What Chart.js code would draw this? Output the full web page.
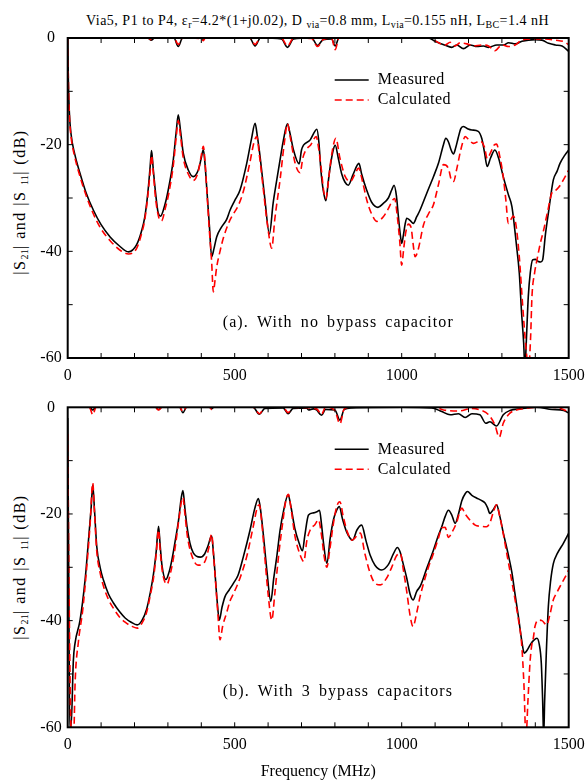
<!DOCTYPE html>
<html>
<head>
<meta charset="utf-8">
<script src="https://cdn.jsdelivr.net/npm/chart.js@4/dist/chart.umd.min.js"></script>
<style>
  body { margin: 0; background: #fff; width: 586px; height: 781px; position: relative; overflow: hidden;
         font-family: "Liberation Serif", "Times New Roman", serif; color: #000; }
  canvas { position: absolute; left: 0; }
  #topChart { top: 0; }
  #botChart { top: 390px; }
  #title { position: absolute; left: 0; width: 635px; top: 13px; text-align: center; font-size: 14px;
           letter-spacing: 0.5px; line-height: 16px; white-space: nowrap; }
  .ylab { position: absolute; width: 220px; height: 20px; line-height: 20px; text-align: center;
          font-size: 16px; letter-spacing: 1.5px; white-space: nowrap; transform: rotate(-90deg); }
  sub { font-size: 10px; vertical-align: -3px; line-height: 0; letter-spacing: 0.3px; }
</style>
</head>
<body>
<div id="title">Via5, P1 to P4, ε<sub>r</sub>=4.2*(1+j0.02), D <sub>via</sub>=0.8 mm, L<sub>via</sub>=0.155 nH, L<sub>BC</sub>=1.4 nH</div>
<div class="ylab" style="left:-90px; top:192px;">|S<sub>21</sub>| and |S <sub>11</sub>| (dB)</div>
<div class="ylab" style="left:-90px; top:557px;">|S<sub>21</sub>| and |S <sub>11</sub>| (dB)</div>
<canvas id="topChart" width="586" height="390"></canvas>
<canvas id="botChart" width="586" height="391"></canvas>
<script>
// ---- (a) no bypass capacitor ----
const aS21MeasFreq = [0,2,5,10,20,37,55,77,100,127,155,182,206,222,231,240,247,251,256,263,270,278,290,301,316,325,331,338,346,361,376,391,400,406,411,416,424,431,438,446,460,476,486,500,516,536,550,561,568,576,590,604,615,626,638,646,658,666,676,693,700,706,726,740,746,752,758,765,773,780,786,795,801,810,820,830,840,855,872,880,895,910,929,945,960,970,977,984,990,996,1000,1005,1010,1015,1025,1035,1045,1055,1075,1095,1110,1125,1132,1140,1148,1155,1162,1169,1177,1184,1197,1210,1229,1240,1248,1256,1266,1279,1290,1304,1320,1330,1344,1352,1359,1365,1369,1373,1379,1385,1392,1400,1409,1416,1422,1430,1439,1454,1465,1474,1488,1500];
const aS21MeasDb = [0,-8,-14,-18,-21.5,-25.4,-29,-32.3,-35,-37.3,-39,-40.1,-38.8,-36,-33.5,-29,-24,-21.1,-24.5,-29,-32.5,-33.4,-31.5,-28.5,-22.9,-17.5,-14.4,-17.5,-21.6,-24.75,-26,-24.75,-22.5,-20.9,-23.5,-27.9,-35,-41,-39.5,-37.3,-35.5,-34,-32.3,-30.5,-28.5,-23.5,-19,-16,-18.5,-22.25,-30,-36.75,-31,-26.6,-22,-19.1,-16.1,-18,-21,-23.6,-21,-20.1,-19.1,-17.5,-17.1,-19.5,-24.75,-28.5,-30.5,-27,-24.1,-21,-20.1,-22.5,-25.4,-27,-27.6,-25.5,-23.5,-25.5,-28.5,-30.8,-31.75,-31,-30,-28.5,-27.6,-29.5,-33.4,-37,-38.5,-37,-35,-33.8,-34.2,-34.75,-33.5,-32.25,-29.1,-26,-23.5,-20,-18.8,-19.5,-21,-21.75,-20.5,-18.75,-17,-16.6,-17,-17.25,-17.5,-18.9,-21.5,-24.1,-22.5,-21,-22.5,-26,-29.5,-31.6,-39.1,-44,-51.6,-57,-62,-57,-48.5,-44,-41.6,-41.5,-41.9,-42,-41.6,-37,-32.9,-26.6,-25,-23.5,-22,-21];

const aS21CalcFreq = [0,2,5,10,20,37,55,77,100,127,155,182,206,222,231,240,247,251,256,263,272,281,292,303,316,325,331,338,346,361,376,391,400,406,411,416,424,431,436,441,446,456,466,486,496,510,526,545,558,566,574,585,598,611,620,636,648,658,666,681,696,704,711,728,744,752,760,766,773,782,790,803,815,831,846,860,871,883,896,910,926,945,960,972,979,986,994,1000,1006,1012,1020,1028,1034,1040,1050,1065,1080,1095,1110,1125,1140,1148,1155,1165,1175,1183,1190,1200,1215,1235,1248,1256,1266,1278,1284,1293,1304,1312,1319,1327,1334,1342,1352,1362,1372,1380,1386,1390,1398,1405,1415,1425,1437,1450,1462,1470,1485,1500];
const aS21CalcDb = [0,-8,-14.5,-18.5,-22,-26,-29.5,-33,-35.8,-38,-39.7,-40.5,-39.5,-36.5,-34,-29.5,-25,-22,-25,-30,-33.5,-34.3,-32,-29,-24,-18.5,-15.5,-18.5,-22.5,-25.5,-26.7,-25,-22,-20.3,-23,-28,-36,-42,-47.6,-45.5,-43,-40,-37.5,-34.1,-33,-31.5,-28.75,-23.5,-19.5,-18.5,-22,-28,-35,-39.4,-34,-26.5,-20,-16.1,-18.5,-23.5,-25.25,-22.5,-21.25,-20,-18.5,-21,-25,-28.5,-30.1,-26,-22,-18.8,-22.5,-26,-26.9,-25.5,-24.4,-27,-30.5,-33,-34.4,-33.5,-32,-30.5,-30.1,-33,-38,-42.6,-39.5,-36.5,-34.9,-35.5,-38.5,-41,-39.5,-35.1,-33,-31.25,-27.5,-23.75,-24.5,-26.5,-26.9,-24.5,-21.5,-19.5,-18.5,-19,-19.75,-19.3,-20.5,-22.6,-21.5,-20,-19.9,-22,-26,-30.5,-34.75,-34,-33.4,-35,-41,-50,-58,-62,-56,-48.5,-44,-41.6,-38.5,-36,-32.5,-29,-28.5,-28,-26.5,-24.75];

const aS11MeasFreq = [0,240,250,260,318,331,344,400,406,412,545,561,577,640,658,676,730,748,765,790,801,812,1080,1100,1128,1150,1165,1185,1205,1225,1245,1260,1285,1305,1320,1340,1360,1400,1420,1440,1460,1480,1500];
const aS11MeasDb = [0,0,-0.4,0,0,-1.6,0,0,-0.3,0,0,-1.5,0,-0.2,-1.75,-0.2,0,-1.4,-0.3,-0.2,-1.5,0,0,-0.6,-1.3,-1.75,-1.3,-2,-1.3,-1.6,-1.5,-1.75,-1.3,-1.3,-0.9,-1.1,-0.6,-0.3,-0.4,-1,-1.3,-1.5,-2.5];

const aS11CalcFreq = [0,240,250,260,318,331,344,400,406,412,545,561,577,640,658,676,730,748,765,790,801,812,1090,1100,1130,1145,1160,1175,1195,1215,1240,1260,1279,1300,1320,1340,1360,1390,1430,1460,1490,1500];
const aS11CalcDb = [0,0,-0.3,0,0,-1.2,0,-0.1,-0.5,0,0,-1.2,0,0,-1.5,0,-0.1,-1.6,-0.3,0,-2.2,0,0,-0.5,-1.3,-0.8,-1.5,-0.9,-1.1,-1.5,-1.3,-1.5,-2.4,-1.3,-1.6,-1.3,-0.4,-0.2,-0.2,-0.4,-0.8,-1.3];

// ---- (b) with 3 bypass capacitors ----
const bS21MeasFreq = [0,3,6,10,17,22,37,52,62,70,75,80,87,97,107,122,137,155,172,190,208,222,236,248,257,265,272,277,282,294,303,312,322,332,340,345,351,357,366,376,397,410,420,431,436,441,447,454,462,471,483,496,510,526,546,560,571,578,586,597,608,617,626,636,646,660,668,680,693,703,710,721,736,746,754,760,766,776,786,796,806,813,823,836,853,866,880,893,906,920,940,960,975,987,995,1005,1015,1025,1034,1045,1056,1075,1095,1110,1120,1130,1140,1150,1160,1170,1180,1190,1197,1210,1224,1237,1249,1257,1264,1274,1284,1294,1304,1319,1330,1339,1350,1360,1367,1376,1385,1395,1405,1412,1418,1422,1425,1428,1433,1439,1446,1454,1466,1484,1500];
const bS21MeasDb = [-2,-30,-60,-60,-47.4,-44.2,-39.9,-32.4,-25.1,-19,-14.6,-19,-26.1,-30,-32.4,-35,-36.7,-38.3,-39.5,-40.3,-40.8,-40,-37.9,-34.5,-31.2,-27,-22.3,-26,-29.5,-32.3,-31,-28.6,-25,-21.1,-17,-15.6,-19,-22.3,-25.5,-27.3,-28.1,-27.5,-26,-24.1,-27,-31,-36,-39.9,-37.5,-35.5,-34.3,-33,-31.5,-28,-23,-19,-17.1,-19.5,-24,-31,-36.4,-32,-28,-23,-19.5,-16.4,-18.5,-22.7,-25.5,-26.9,-24,-20.2,-19.8,-19.6,-19.3,-22,-25.5,-29.3,-24.5,-21,-19.2,-18.6,-21,-23.5,-24.9,-23,-22.1,-25,-27.8,-29.6,-30.5,-29.5,-27.5,-26.3,-27.1,-29.5,-32,-35,-36.1,-34.5,-33.5,-30.2,-26.8,-24,-22.4,-20.5,-19.3,-20.2,-21.75,-20,-17.5,-16.2,-15.8,-16.5,-17,-17.4,-17.9,-18.8,-19.9,-19.2,-18.3,-20.5,-23.5,-27.6,-31,-34.9,-39.5,-44,-46.1,-45.5,-44.5,-43.7,-43.3,-44.5,-48,-55,-62,-55,-46,-37.4,-32.5,-29.3,-27.4,-25.5,-23.6];

const bS21CalcFreq = [0,5,10,15,19,22,32,45,57,67,75,80,87,97,107,122,137,155,172,190,208,222,236,248,257,265,272,277,284,297,308,320,333,341,345,351,358,370,390,410,422,431,437,443,450,456,464,476,486,496,516,536,555,568,574,580,590,600,611,620,632,645,653,661,668,680,695,707,716,726,740,751,760,768,776,784,795,806,815,825,838,851,866,876,890,905,920,936,955,970,985,996,1005,1015,1025,1034,1045,1055,1065,1080,1095,1110,1120,1130,1140,1150,1165,1172,1180,1190,1205,1220,1235,1254,1265,1275,1284,1292,1305,1314,1325,1339,1350,1359,1366,1372,1378,1384,1390,1394,1399,1409,1420,1434,1444,1454,1464,1474,1488,1500];
const bS21CalcDb = [-5,-40,-60,-62,-60,-52,-44,-38,-30,-22,-14.2,-19.5,-27,-31,-33.5,-36,-37.7,-39.3,-40.3,-41,-41.4,-40.5,-38.5,-35,-32,-27.5,-23,-27,-31,-33.2,-31,-27,-21,-17.5,-16.9,-20,-24,-27.5,-29.6,-29,-26.5,-23.8,-28,-33,-39,-43.6,-41,-38.5,-36.3,-35,-32,-28,-22.5,-18.7,-18.3,-21,-28,-35,-39.9,-35,-27.5,-21,-17.5,-16.3,-18.7,-24,-27.5,-28.9,-25,-23,-22,-21.1,-24,-28,-30,-27,-22,-18.5,-17.7,-20.5,-23.5,-24.9,-24.1,-23.6,-27.5,-31,-33,-33.3,-32,-30,-27.8,-27.4,-30.5,-34.5,-39,-41.1,-38.5,-35.5,-33.1,-30,-27.4,-24.5,-22.6,-22.5,-24.4,-23.5,-21.5,-20,-18.9,-20,-21.2,-22.1,-22.3,-22.4,-21.5,-19.5,-18.3,-20,-24,-27.2,-31,-35.9,-40,-44.3,-52,-62,-55,-48,-44.3,-43.3,-41.1,-39.9,-40,-40.8,-38.8,-36.1,-34.8,-33.6,-32,-30.5];

const bS11MeasFreq = [0,65,75,85,262,272,282,335,345,356,425,431,437,555,574,590,645,660,675,715,721,735,745,760,772,800,815,828,850,1000,1090,1120,1145,1170,1190,1210,1234,1252,1264,1284,1304,1324,1354,1404,1450,1485,1500];
const bS11MeasDb = [0,0,-0.5,0,0,-0.4,0,0,-1,0,0,-0.3,0,0,-1.3,-0.2,-0.1,-1.2,-0.2,-0.1,-0.5,-0.3,-0.5,-1.5,-0.4,-0.5,-2.4,-0.4,-0.1,0,-0.1,-0.8,-1.4,-1.2,-1.9,-1.2,-1.4,-3,-2.7,-3.5,-1.4,-0.6,-0.3,0,-0.4,-0.6,-1.1];

const bS11CalcFreq = [0,65,75,85,262,272,282,335,345,356,425,431,437,555,574,590,645,660,675,745,760,772,800,815,828,850,1100,1125,1170,1210,1235,1260,1279,1292,1304,1324,1344,1360,1404,1450,1480,1500];
const bS11CalcDb = [0,0,-1.4,0,0,-0.5,0,0,-0.8,0,0,-0.4,0,0,-1.2,0,0,-1,0,-0.3,-1.3,0,-0.6,-3.1,-0.3,0,0,-0.5,-0.7,-0.2,-0.5,-1.4,-3.3,-5.6,-3,-1.1,-0.5,-0.3,0,0,-0.3,-0.9];

const xTickLabels = [0, 500, 1000, 1500];
const yTickLabels = [0, -20, -40, -60];
const seriesNames = ['Measured', 'Calculated'];

function pts(fs, ds) { return fs.map((f, i) => ({ x: f, y: ds[i] })); }

const serif = '"Liberation Serif", "Times New Roman", serif';

// clip the curves to the plot box, then draw inward ticks, frame, legend and caption
const panelDeco = {
  id: 'panelDeco',
  beforeDatasetsDraw(chart) {
    const { ctx, chartArea: a } = chart;
    ctx.save();
    ctx.beginPath();
    ctx.rect(a.left, a.top, a.right - a.left, a.bottom - a.top);
    ctx.clip();
  },
  afterDatasetsDraw(chart, args, opts) {
    const { ctx, chartArea: a, scales: { x, y } } = chart;
    ctx.restore();
    ctx.save();
    ctx.strokeStyle = '#000';
    ctx.lineWidth = 1;
    ctx.beginPath();
    for (let v = 100; v < 1500; v += 100) {
      const px = x.getPixelForValue(v);
      ctx.moveTo(px, a.bottom); ctx.lineTo(px, a.bottom - 5);
      ctx.moveTo(px, a.top); ctx.lineTo(px, a.top + 5);
    }
    for (let v = -50; v < 0; v += 10) {
      const py = y.getPixelForValue(v);
      ctx.moveTo(a.left, py); ctx.lineTo(a.left + 5, py);
      ctx.moveTo(a.right, py); ctx.lineTo(a.right - 5, py);
    }
    ctx.stroke();
    ctx.lineWidth = 2;
    ctx.strokeRect(a.left, a.top, a.right - a.left, a.bottom - a.top);

    ctx.font = '16px ' + serif;
    ctx.letterSpacing = '0.5px';
    ctx.textBaseline = 'middle';
    ctx.fillStyle = '#000';
    let row = 0;
    chart.data.datasets.forEach(ds => {
      if (!ds.inLegend) return;
      const ly = a.top + 42 + row * 20;
      ctx.strokeStyle = ds.borderColor;
      ctx.lineWidth = ds.borderWidth;
      ctx.setLineDash(ds.borderDash || []);
      ctx.beginPath();
      ctx.moveTo(a.left + 267, ly); ctx.lineTo(a.left + 301, ly);
      ctx.stroke();
      ctx.setLineDash([]);
      ctx.fillText(ds.label, a.left + 310, ly);
      row++;
    });

    ctx.textBaseline = 'alphabetic';
    ctx.letterSpacing = '1.1px';
    ctx.wordSpacing = '3px';
    ctx.fillText(opts.caption, a.left + 155, a.bottom - 31);
    ctx.restore();
  }
};

function makeDatasets(mF, mD, cF, cD, m11F, m11D, c11F, c11D) {
  const common = { borderWidth: 1.6, pointRadius: 0, cubicInterpolationMode: 'monotone',
                   clip: { left: 0, right: 0, top: 0, bottom: 0 } };
  const meas = { ...common, borderColor: '#000', order: 2 };
  const calc = { ...common, borderColor: '#ff0000', borderDash: [7, 4], order: 1 };
  return [
    { ...meas, label: seriesNames[0], inLegend: true, data: pts(mF, mD) },
    { ...calc, label: seriesNames[1], inLegend: true, data: pts(cF, cD) },
    { ...meas, label: 'S11 ' + seriesNames[0], data: pts(m11F, m11D) },
    { ...calc, label: 'S11 ' + seriesNames[1], data: pts(c11F, c11D) }
  ];
}

function makeChart(id, datasets, caption, padTop, xHeight, showXTitle) {
  return new Chart(document.getElementById(id), {
    type: 'line',
    data: { datasets },
    plugins: [panelDeco],
    options: {
      responsive: false,
      animation: false,
      layout: { padding: { left: 0, right: 17.3, top: padTop, bottom: 0 } },
      plugins: {
        legend: { display: false },
        tooltip: { enabled: false },
        panelDeco: { caption }
      },
      scales: {
        x: {
          type: 'linear', min: 0, max: 1500,
          afterBuildTicks: s => { s.ticks = xTickLabels.map(v => ({ value: v })); },
          afterFit: s => { s.height = xHeight; s.paddingLeft = 0; s.paddingRight = 0; },
          grid: { display: false, drawTicks: false },
          border: { display: false },
          ticks: { color: '#000', font: { family: serif, size: 16 }, padding: 8, maxRotation: 0,
                   callback: v => String(v) },
          title: { display: showXTitle, text: 'Frequency (MHz)', color: '#000',
                   font: { family: serif, size: 16 }, padding: { top: 0, bottom: 0 } }
        },
        y: {
          min: -60, max: 0,
          afterBuildTicks: s => { s.ticks = yTickLabels.map(v => ({ value: v })); },
          afterFit: s => { s.width = 67.7; s.paddingTop = 0; s.paddingBottom = 0; },
          grid: { display: false, drawTicks: false },
          border: { display: false },
          ticks: { color: '#000', font: { family: serif, size: 16 }, padding: 6, crossAlign: 'center',
                   callback: v => String(v) }
        }
      }
    }
  });
}

makeChart('topChart',
  makeDatasets(aS21MeasFreq, aS21MeasDb, aS21CalcFreq, aS21CalcDb, aS11MeasFreq, aS11MeasDb, aS11CalcFreq, aS11CalcDb),
  '(a). With no bypass capacitor', 38, 32, false);

makeChart('botChart',
  makeDatasets(bS21MeasFreq, bS21MeasDb, bS21CalcFreq, bS21CalcDb, bS11MeasFreq, bS11MeasDb, bS11CalcFreq, bS11CalcDb),
  '(b). With 3 bypass capacitors', 17.3, 53.7, true);
</script>
</body>
</html>
